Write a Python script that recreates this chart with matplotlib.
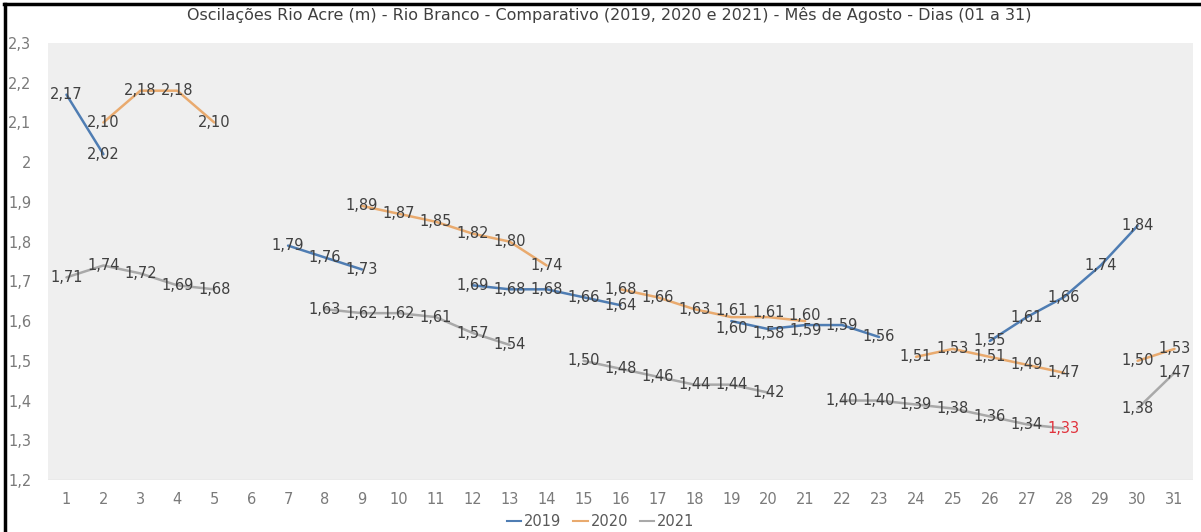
import matplotlib.pyplot as plt
import numpy as np
from matplotlib.lines import Line2D

DAYS = list(range(1, 32))

Y_2019 = [2.17, 2.02, None, None, None, None, 1.79, 1.76, 1.73, None, None,
          1.69, 1.68, 1.68, 1.66, 1.64, None, None, 1.60, 1.58, 1.59, 1.59,
          1.56, None, None, 1.55, 1.61, 1.66, 1.74, 1.84, None]
Y_2020 = [None, 2.10, 2.18, 2.18, 2.10, None, None, None, 1.89, 1.87, 1.85,
          1.82, 1.80, 1.74, None, 1.68, 1.66, 1.63, 1.61, 1.61, 1.60, None,
          None, 1.51, 1.53, 1.51, 1.49, 1.47, None, 1.50, 1.53]
Y_2021 = [1.71, 1.74, 1.72, 1.69, 1.68, None, None, 1.63, 1.62, 1.62, 1.61,
          1.57, 1.54, None, 1.50, 1.48, 1.46, 1.44, 1.44, 1.42, None, 1.40,
          1.40, 1.39, 1.38, 1.36, 1.34, 1.33, None, 1.38, 1.47]

SERIES = [('2019', Y_2019, '#4f7db3'), ('2020', Y_2020, '#e9aa6e'), ('2021', Y_2021, '#a9a9a9')]
Y_TICKS = [1.2, 1.3, 1.4, 1.5, 1.6, 1.7, 1.8, 1.9, 2.0, 2.1, 2.2, 2.3]
HIGHLIGHT = ('2021', 28)  # label drawn in red

# where 2019 and 2020 labels sit on top of each other, push them apart a bit (points)
NUDGE = {('2019', 19): -5, ('2019', 20): -3, ('2019', 21): -4,
         ('2020', 19): 5, ('2020', 20): 3, ('2020', 21): 4}

plt.rcParams['font.family'] = ['Liberation Sans Narrow', 'DejaVu Sans']

fig = plt.figure(figsize=(12.01, 5.32), dpi=100)
ax = fig.add_axes([48 / 1201, 52 / 532, 1145 / 1201, 437 / 532])
ax.set_facecolor('#efefef')

for name, vals, color in SERIES:
    y = np.array([np.nan if v is None else v for v in vals])
    ax.plot(DAYS, y, color=color, linewidth=1.8, solid_capstyle='round')
    for d, v in zip(DAYS, vals):
        if v is None:
            continue
        tc = '#e0323c' if (name, d) == HIGHLIGHT else '#404040'
        ax.annotate(f'{v:.2f}'.replace('.', ','), (d, v),
                    xytext=(0, NUDGE.get((name, d), 0)), textcoords='offset points',
                    ha='center', va='center', fontsize=10.5, color=tc)

ax.set_xlim(0.5, 31.5)
ax.set_ylim(1.2, 2.3)
ax.set_xticks(DAYS)
ax.set_xticklabels([str(d) for d in DAYS])
ax.set_yticks(Y_TICKS)
ax.set_yticklabels([f'{t:g}'.replace('.', ',') for t in Y_TICKS])
ax.tick_params(length=0, colors='#7a7a7a', labelsize=10.5)
ax.tick_params(axis='x', pad=9)
ax.tick_params(axis='y', pad=12)
for s in ax.spines.values():
    s.set_visible(False)
ax.axhline(1.2, color='#d9d9d9', linewidth=1)

fig.text(0.507, 0.972, 'Oscilações Rio Acre (m) - Rio Branco - Comparativo (2019, 2020 e 2021) - Mês de Agosto - Dias (01 a 31)',
         ha='center', va='center', fontsize=11.5, color='#404040')

handles = [Line2D([], [], color=c, linewidth=1.5) for _, _, c in SERIES]
fig.legend(handles, [n for n, _, _ in SERIES], loc='center', bbox_to_anchor=(0.5, 0.02),
           ncol=3, frameon=False, fontsize=10.5, labelcolor='#595959',
           handlelength=1.0, handletextpad=0.2, columnspacing=0.8)

# frame edges of the cropped screenshot
fig.add_artist(Line2D([5 / 1201, 5 / 1201], [0, 1 - 4 / 532], color='black', linewidth=2.5,
                      transform=fig.transFigure))
fig.add_artist(Line2D([4 / 1201, 1], [1 - 4 / 532, 1 - 4 / 532], color='black', linewidth=2.5,
                      transform=fig.transFigure))

fig.savefig('out.png', dpi=100)
